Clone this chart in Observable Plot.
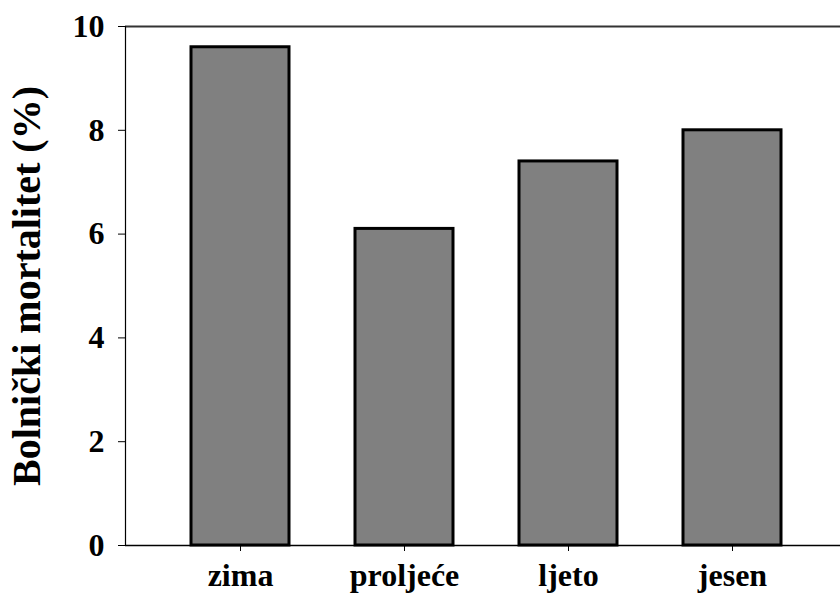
<!DOCTYPE html>
<html>
<head>
<meta charset="utf-8">
<script src="https://cdn.jsdelivr.net/npm/d3@7"></script>
<script src="https://cdn.jsdelivr.net/npm/@observablehq/plot@0.6"></script>
<style>
  html, body { margin: 0; padding: 0; background: #fff; }
  svg { display: block; }
</style>
</head>
<body>
<div id="chart"></div>
<script>
const seasons = ["zima", "proljeće", "ljeto", "jesen"];
const mortality = [9.6, 6.1, 7.4, 8.0];
const yTicks = [0, 2, 4, 6, 8, 10];
const yTitle = "Bolnički mortalitet (%)";

const data = seasons.map((s, i) => ({season: s, value: mortality[i]}));
const font = "'Liberation Serif', 'Times New Roman', serif";

const chart = Plot.plot({
  width: 840,
  height: 594,
  marginLeft: 125,
  marginRight: 0,
  marginTop: 26,
  marginBottom: 49,
  style: {fontFamily: font, fontWeight: "bold", background: "#fff", color: "#000"},
  x: {domain: seasons, range: [125, 847], padding: 0.4},
  y: {domain: [0, 10]},
  marks: [
    Plot.barY(data, {x: "season", y: "value", fill: "#808080", stroke: "#000", strokeWidth: 3}),
    Plot.ruleY([10], {stroke: "#333", strokeWidth: 2}),
    Plot.ruleY([0], {stroke: "#000", strokeWidth: 1.5}),
    Plot.frame({anchor: "left", stroke: "#000", strokeWidth: 1.2}),
    Plot.axisY({ticks: yTicks, tickSize: 7, tickPadding: 14, tickFormat: d => d, label: null, fontSize: 32, stroke: "#000"}),
    Plot.axisX({tickSize: 6, tickPadding: 12, label: null, fontSize: 32}),
    Plot.text([yTitle], {frameAnchor: "left", textAnchor: "middle", dx: -98, rotate: -90, text: d => d, fontSize: 40, fontWeight: "bold", fill: "#000"})
  ]
});
document.getElementById("chart").appendChild(chart);
</script>
</body>
</html>
